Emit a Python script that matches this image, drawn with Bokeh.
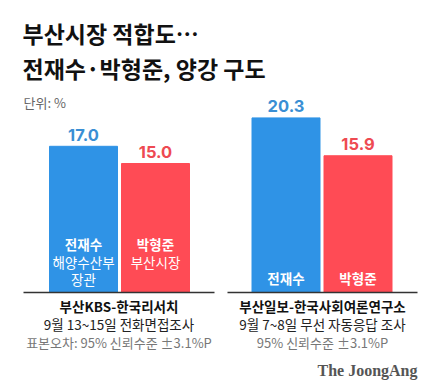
from bokeh.plotting import figure
from bokeh.models import Range1d, ColumnDataSource, Label
from bokeh.core.properties import value
from bokeh.embed import file_html
from bokeh.resources import INLINE

# ---- data ----
title_lines = ["부산시장 적합도…", "전재수·박형준, 양강 구도"]
unit_label = "단위: %"
candidates = ["전재수", "박형준"]
surveys = ["부산KBS-한국리서치", "부산일보-한국사회여론연구소"]
survey_dates = ["9월 13~15일 전화면접조사", "9월 7~8일 무선 자동응답 조사"]
survey_notes = ["표본오차: 95% 신뢰수준 ±3.1%P", "95% 신뢰수준 ±3.1%P"]
jeon_values = [17.0, 20.3]
park_values = [15.0, 15.9]
jeon_sub = [["해양수산부", "장관"], []]
park_sub = [["부산시장"], []]
source_label = "The JoongAng"

# ---- layout / style ----
W, H = 427, 391
PX_PER_UNIT = 8.6
BASE_FROM_BOTTOM = 99
group_centers = [119, 321.5]
axis_spans = [(23, 214), (227, 417)]
bar_off = 36
bar_w = 68
BLUE = "#2F93E6"
RED = "#FF4B55"
BLUE_TXT = "#3A8FD4"
RED_TXT = "#EE4A52"
KR = "Noto Sans CJK KR"

p = figure(width=W, height=H, output_backend="svg", toolbar_location=None,
           x_range=Range1d(0, W),
           y_range=Range1d(-BASE_FROM_BOTTOM / PX_PER_UNIT, (H - BASE_FROM_BOTTOM) / PX_PER_UNIT),
           min_border=0, min_border_left=0, min_border_right=0,
           min_border_top=0, min_border_bottom=0)
p.axis.visible = False
p.grid.visible = False
p.outline_line_color = None
p.background_fill_color = "white"
p.border_fill_color = "white"

xs, tops, colors = [], [], []
for i, c in enumerate(group_centers):
    xs += [c - bar_off, c + bar_off]
    tops += [jeon_values[i], park_values[i]]
    colors += [BLUE, RED]
src = ColumnDataSource(dict(x=xs, top=tops, color=colors,
                            label=[f"{v:.1f}" for v in tops],
                            tcolor=[BLUE_TXT, RED_TXT] * 2,
                            ty=[t + 11.5 / PX_PER_UNIT for t in tops]))
p.vbar(x="x", top="top", bottom=0, width=bar_w, color="color", source=src)
p.text(x="x", y="ty", text="label", text_color="tcolor", source=src,
       text_align="center", text_baseline="middle",
       text_font=value("Inter"), text_font_size="16.5px", text_font_style="bold")

# axis base lines
for (a, b) in axis_spans:
    p.line([a, b], [0, 0], line_color="#333333", line_width=1.5)

def lab(x, y, text, size, color="#111111", style="normal", align="center", font=KR, xu="data"):
    p.add_layout(Label(x=x, y=y, x_units=xu, y_units="screen", text=text,
                       text_font=font, text_font_size=size, text_color=color,
                       text_font_style=style, text_align=align, text_baseline="middle"))

# titles
lab(22, 358.5, title_lines[0], "23px", "#111111", "bold", "left", xu="screen")
lab(22, 324, title_lines[1], "23px", "#111111", "bold", "left", xu="screen")
lab(23, 289, unit_label, "13px", "#666666", "normal", "left", xu="screen")

# in-bar labels
for i, c in enumerate(group_centers):
    top_y = 148 if (jeon_sub[i] or park_sub[i]) else 114
    for xx, name, subs in [(c - bar_off, candidates[0], jeon_sub[i]), (c + bar_off, candidates[1], park_sub[i])]:
        lab(xx, top_y, name, "13.5px", "white", "bold")
        for k, s in enumerate(subs):
            lab(xx, top_y - 18 - 17 * k, s, "13.5px", "white", "normal")

# survey captions
for i, (a, b) in enumerate(axis_spans):
    cx = (a + b) / 2
    lab(cx, 85.5, surveys[i], "13.5px", "#111111", "bold")
    lab(cx, 67.5, survey_dates[i], "13.5px", "#222222", "normal")
    lab(cx, 49, survey_notes[i], "13px", "#777777", "normal")

lab(417, 21, source_label, "16px", "#555555", "bold", "right", font="Liberation Serif")

open("out.html", "w").write(file_html(p, INLINE))
